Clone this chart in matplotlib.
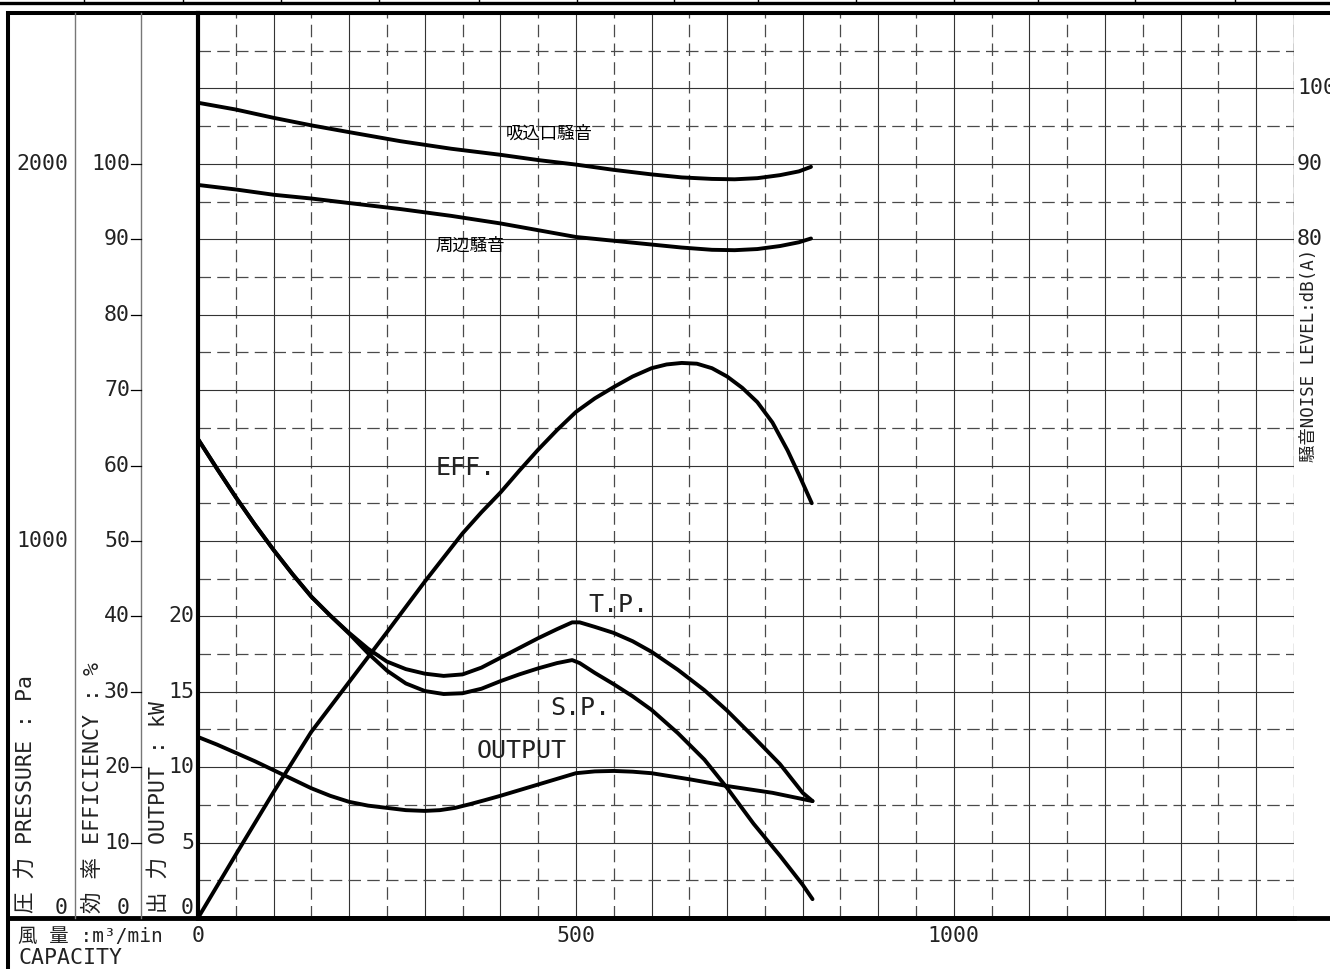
import numpy as np
import matplotlib
matplotlib.use('Agg')
import matplotlib.pyplot as plt
from matplotlib.transforms import blended_transform_factory

plt.rcParams['font.family'] = ['DejaVu Sans Mono', 'Noto Sans CJK JP']

### capacity m3/min vs efficiency %
cap_eff = [0, 50, 100, 150, 200, 250, 300, 350, 375, 400, 425, 450, 475, 500, 525, 550, 575, 600,
           620, 640, 660, 680, 700, 720, 740, 760, 780, 795, 812]
efficiency = [0, 8.4, 16.7, 24.7, 31.3, 37.9, 44.6, 51.0, 53.8, 56.4, 59.3, 62.1, 64.7, 67.1, 68.9, 70.4, 71.8, 72.9,
              73.4, 73.6, 73.5, 72.9, 71.8, 70.3, 68.4, 65.7, 62.0, 58.8, 55.0]

### total / static pressure Pa
cap_pr = [0, 25, 50, 75, 100, 125, 150, 175, 200, 225, 250, 275, 300, 325, 350, 375, 400, 425, 450,
          475, 495, 505, 525, 550, 575, 600, 635, 670, 700, 735, 770, 800, 813]
total_pressure = [1270, 1192, 1116, 1044, 976, 912, 852, 802, 756, 714, 680, 660, 648, 642, 646, 664, 690, 716, 742,
                  766, 784, 784, 772, 756, 734, 706, 658, 604, 550, 480, 408, 332, 310]
static_pressure = [1270, 1192, 1116, 1044, 976, 912, 852, 802, 754, 702, 656, 622, 602, 594, 596, 608, 628, 646, 662,
                   676, 684, 676, 650, 620, 588, 552, 490, 420, 345, 250, 165, 88, 50]

### shaft output kW
cap_out = [0, 25, 50, 75, 100, 125, 150, 175, 200, 225, 250, 275, 300, 320, 340, 360, 380, 400, 420,
           440, 460, 480, 500, 525, 550, 575, 600, 650, 700, 760, 813]
output_kw = [12.0, 11.5, 10.95, 10.4, 9.8, 9.2, 8.6, 8.1, 7.7, 7.45, 7.3, 7.15, 7.1, 7.15, 7.3, 7.55, 7.82, 8.1, 8.4,
             8.7, 9.0, 9.3, 9.6, 9.72, 9.75, 9.7, 9.6, 9.2, 8.75, 8.3, 7.75]

### noise dB(A)
cap_noise = [0, 50, 100, 150, 200, 268, 335, 400, 450, 500, 550, 600, 640, 680, 710, 740, 770, 795, 811]
suction_noise = [98.1, 97.2, 96.1, 95.1, 94.2, 93.0, 92.0, 91.2, 90.5, 89.9, 89.2, 88.6, 88.2, 88.0, 87.95,
                 88.1, 88.5, 89.0, 89.6]
surround_noise = [87.2, 86.6, 85.9, 85.4, 84.8, 84.0, 83.1, 82.1, 81.2, 80.3, 79.8, 79.3, 78.9, 78.6, 78.55,
                  78.7, 79.1, 79.6, 80.1]

pressure_labels = [0, 1000, 2000]
eff_labels = list(range(0, 101, 10))
kw_labels = [0, 5, 10, 15, 20]
noise_labels = [80, 90, 100]
cap_labels = [0, 500, 1000]

W, H = 1330, 969
fig = plt.figure(figsize=(W / 100, H / 100), dpi=100)

# background axes in pixel coords for the frame
bg = fig.add_axes([0, 0, 1, 1], zorder=0)
bg.axis('off')

ax = fig.add_axes([198 / W, 1 - 918 / H, (1294 - 198) / W, (918 - 13) / H], zorder=1)
ax.patch.set_alpha(0)
ax.set_xlim(0, 1450)
ax.set_ylim(0, 120)
ax.set_xticks(np.arange(0, 1451, 100))
ax.set_xticks(np.arange(50, 1451, 100), minor=True)
ax.set_yticks(np.arange(0, 121, 10))
ax.set_yticks(np.arange(5, 121, 10), minor=True)
ax.grid(which='major', color='#333333', lw=0.8, ls='-')
ax.grid(which='minor', color='#4a4a4a', lw=0.9, ls=(0, (10, 5)))
ax.tick_params(which='both', length=0, labelleft=False, labelbottom=False)
ax.spines['right'].set_visible(False)
ax.spines['left'].set_linewidth(3)
ax.spines['bottom'].set_linewidth(3.5)
ax.spines['top'].set_linewidth(2.9)
ax.axvline(1450, ymin=0.5, ymax=1, color='#222222', lw=0.9)

ax_p = ax.twinx()
ax_p.set_ylim(0, 2400)
ax_o = ax.twinx()
ax_o.set_ylim(0, 60)
ax_n = ax.twinx()
ax_n.set_ylim(-10, 110)
for a in (ax_p, ax_o, ax_n):
    a.axis('off')

lw = 2.8
kw = dict(color='black', lw=lw, solid_joinstyle='round', solid_capstyle='round')
ax.plot(cap_eff, efficiency, **kw)
ax_p.plot(cap_pr, total_pressure, **kw)
ax_p.plot(cap_pr, static_pressure, **kw)
ax_o.plot(cap_out, output_kw, **kw)
ax_n.plot(cap_noise, suction_noise, **kw)
ax_n.plot(cap_noise, surround_noise, **kw)

# curve labels
ax.text(407, 104, '吸込口騒音', fontsize=12.5, va='center')
ax.text(314, 89.1, '周辺騒音', fontsize=12.5, va='center')
ax.text(314, 59.7, 'EFF.', fontsize=18, va='center', color='#222222')
ax.text(517, 41.5, 'T.P.', fontsize=18, va='center', color='#222222')
ax.text(466, 27.9, 'S.P.', fontsize=18, va='center', color='#222222')
ax.text(368, 22.1, 'OUTPUT', fontsize=18, va='center', color='#222222')

# frame around the chart
bg.plot([0, W], [3, 3], color='black', lw=2.4)
for px in [84, 183, 281, 379, 479, 577, 674, 758, 856, 954, 1038, 1135, 1235]:
    bg.plot([px, px], [0, 3], color='black', lw=1)
bg.plot([8, W], [13, 13], color='black', lw=2.9)
bg.plot([8, 8], [13, H], color='black', lw=2.9)
bg.plot([8, W], [918, 918], color='black', lw=3.5)
bg.plot([75, 75], [13, 918], color='#777777', lw=1)
bg.plot([141, 141], [13, 918], color='#777777', lw=1)

fs = 15.5
tc = '#222222'
tr_p = blended_transform_factory(bg.transData, ax_p.transData)
tr_e = blended_transform_factory(bg.transData, ax.transData)
tr_o = blended_transform_factory(bg.transData, ax_o.transData)
tr_n = blended_transform_factory(bg.transData, ax_n.transData)
tr_x = blended_transform_factory(ax.transData, bg.transData)

for v in pressure_labels:
    bg.text(68, v, str(v), transform=tr_p, ha='right',
            va='bottom' if v == 0 else 'center', fontsize=fs, color=tc)
for v in eff_labels:
    bg.text(130, v, str(v), transform=tr_e, ha='right',
            va='bottom' if v == 0 else 'center', fontsize=fs, color=tc)
    if v > 0:
        bg.plot([131, 141], [v, v], transform=tr_e, color='black', lw=0.9, clip_on=False)
for v in kw_labels:
    bg.text(194, v, str(v), transform=tr_o, ha='right',
            va='bottom' if v == 0 else 'center', fontsize=fs, color=tc)
for v in noise_labels:
    bg.text(1297, v, str(v), transform=tr_n, ha='left', va='center', fontsize=fs, color=tc)
for v in cap_labels:
    bg.text(v, 936, str(v), transform=tr_x, ha='center', va='center', fontsize=fs, color=tc)

bg.text(25, 913, '圧 力 PRESSURE : Pa', rotation=90, rotation_mode='anchor',
        ha='left', va='center', fontsize=fs, color=tc)
bg.text(93, 913, '効 率 EFFICIENCY : %', rotation=90, rotation_mode='anchor',
        ha='left', va='center', fontsize=fs, color=tc)
bg.text(158, 913, '出 力 OUTPUT : kW', rotation=90, rotation_mode='anchor',
        ha='left', va='center', fontsize=fs, color=tc)
bg.text(1309, 462, '騒音NOISE LEVEL:dB(A)', rotation=90, rotation_mode='anchor',
        ha='left', va='center', fontsize=12.5, color=tc)

bg.text(18, 936, '風 量 :m³/min', ha='left', va='center', fontsize=14, color=tc)
bg.text(18, 958, 'CAPACITY', ha='left', va='center', fontsize=fs, color=tc)

bg.set_xlim(0, W)
bg.set_ylim(H, 0)

fig.savefig('out.png', dpi=100)
